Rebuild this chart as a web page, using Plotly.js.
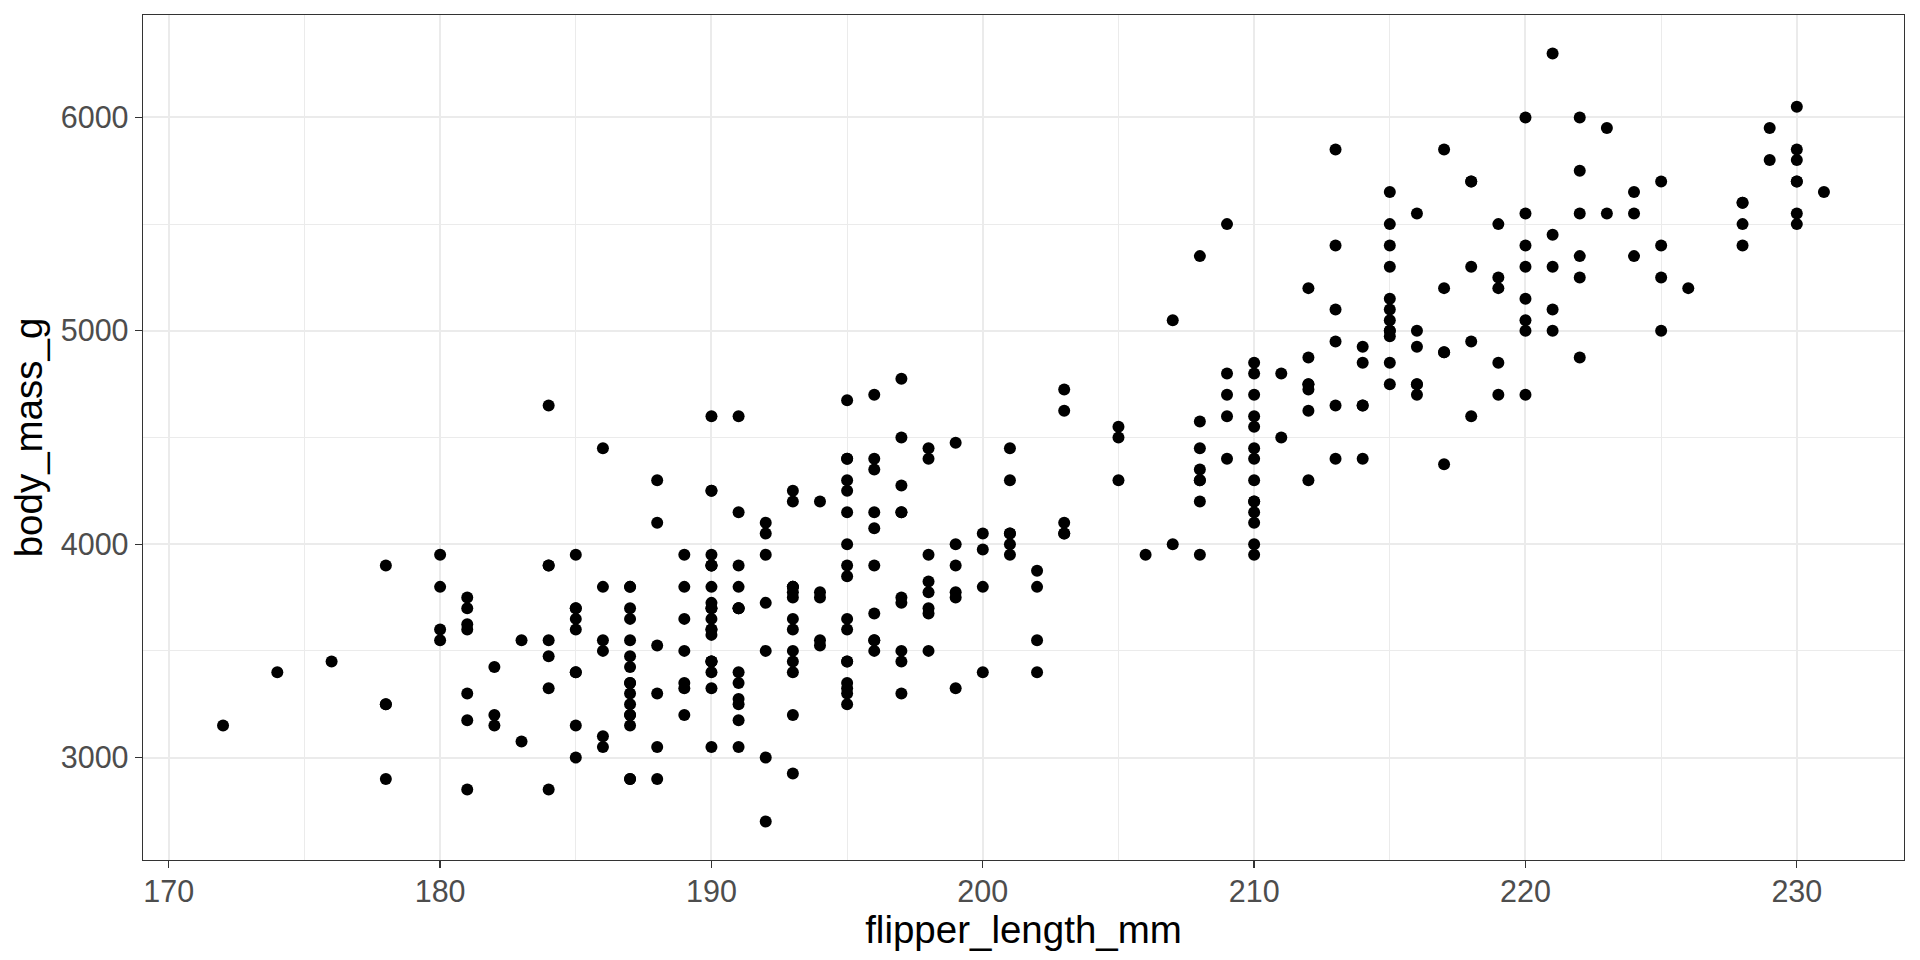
<!DOCTYPE html>
<html>
<head>
<meta charset="utf-8">
<script src="https://cdn.plot.ly/plotly-3.0.1.min.js"></script>
<style>
  html, body { margin: 0; padding: 0; background: #ffffff; }
  #chart { width: 1920px; height: 960px; }
</style>
</head>
<body>
<div id="chart"></div>
<script>
// Adelie
const adelieFlipper = [181,186,195,193,190,181,195,182,191,198,185,195,197,184,194,174,180,189,185,180,187,183,187,172,180,178,178,188,184,195,196,190,180,181,184,182,195,186,196,185,190,182,190,191,186,188,190,200,187,191,186,193,181,194,185,195,185,192,184,192,195,188,190,198,190,190,196,197,190,195,191,184,187,195,189,196,187,193,191,194,190,189,189,190,202,205,185,186,187,208,190,196,178,192,192,203,183,190,193,184,199,190,181,197,198,191,193,197,191,196,188,199,189,189,187,198,176,202,186,199,191,195,191,210,190,197,193,199,187,190,191,200,185,193,193,187,188,190,192,185,190,184,195,193,187,201];
const adelieMass = [3750,3800,3250,3450,3650,3625,4675,3200,3800,4400,3700,3450,4500,3325,4200,3400,3600,3800,3950,3800,3800,3550,3200,3150,3950,3250,3900,3300,3900,3325,4150,3950,3550,3300,4650,3150,3900,3100,4400,3000,4600,3425,3450,4150,3500,4300,3450,4050,2900,3700,3550,3800,2850,3750,3150,4400,3600,4050,2850,3950,3350,4100,3050,4450,3600,3900,3550,4150,3700,4250,3700,3900,3550,4000,3200,4700,3800,4200,3350,3550,3800,3500,3950,3600,3550,4300,3400,4450,3300,4300,3700,4350,2900,4100,3725,4725,3075,4250,2925,3550,3750,3900,3175,4775,3825,4600,3200,4275,3900,4075,2900,3775,3350,3325,3150,3500,3450,3875,3050,4000,3275,4300,3050,4000,3325,3500,3500,4475,3425,3900,3175,3975,3400,4250,3400,3475,3050,3725,3000,3650,4250,3475,3450,3750,3700,4000];

// Gentoo
const gentooFlipper = [211,230,210,218,215,210,211,219,209,215,214,216,214,213,210,217,210,221,209,222,218,215,213,215,215,215,215,210,220,222,209,207,230,220,220,213,219,208,208,208,225,210,216,222,217,210,225,213,215,210,220,210,225,217,220,208,220,208,224,208,221,214,231,219,230,229,220,223,216,221,221,217,216,230,209,220,215,223,212,221,212,224,212,228,218,218,212,230,218,228,212,224,214,226,216,222,203,225,219,228,215,228,215,210,219,208,209,216,229,213,230,217,230,222,214,215,222,212,213];
const gentooMass = [4500,5700,4450,5700,5400,4550,4800,5200,4400,5150,4650,5550,4650,5850,4200,5850,4150,6300,4800,5350,5700,5000,4400,5050,5000,5100,5650,4600,5550,5250,4700,5050,6050,5150,5400,4950,5250,4350,5350,3950,5700,4300,4750,5550,4900,4200,5400,5100,5300,4850,5300,4400,5000,4900,5050,4300,5000,4450,5550,4200,5300,4400,5650,4700,5700,5800,4700,5550,4750,5000,5100,5200,4700,5800,4600,6000,4750,5950,4625,5450,4725,5350,4750,5600,4600,5300,4875,5550,4950,5400,4750,5650,4850,5200,4925,4875,4625,5250,4850,5600,4975,5500,5500,4700,5500,4575,5500,5000,5950,4650,5500,4375,5850,6000,4925,4850,5750,5200,5400];

// Chinstrap
const chinstrapFlipper = [192,196,193,188,197,198,178,197,195,198,193,194,185,201,190,201,197,181,190,195,181,191,187,193,195,197,200,200,191,205,187,201,187,203,195,199,195,210,192,205,210,187,196,196,196,201,190,212,187,198,199,201,193,203,187,197,191,203,202,194,206,189,195,207,202,193,210,198];
const chinstrapMass = [3500,3900,3650,3525,3725,3950,3250,3750,4150,3700,3800,3775,3700,4050,3575,4050,3300,3700,3450,4400,3600,3400,2900,3800,3300,4150,3400,3800,3700,4550,3200,4300,3350,4100,3600,3900,3850,4800,2700,4500,3950,3650,3550,3500,3675,4450,3400,4300,3250,3675,3325,3950,3600,4050,3350,3450,3250,4050,3800,3525,3950,3650,3650,4000,3400,3775,4100,3775];

// Axis ticks
const xTickVals = [170, 180, 190, 200, 210, 220, 230];
const yTickVals = [3000, 4000, 5000, 6000];
const xTitle = 'flipper_length_mm';
const yTitle = 'body_mass_g';

const marker = { color: '#000000', size: 12, line: { width: 0 } };
const traces = [
  { x: adelieFlipper, y: adelieMass, type: 'scatter', mode: 'markers', marker: marker, hoverinfo: 'skip' },
  { x: gentooFlipper, y: gentooMass, type: 'scatter', mode: 'markers', marker: marker, hoverinfo: 'skip' },
  { x: chinstrapFlipper, y: chinstrapMass, type: 'scatter', mode: 'markers', marker: marker, hoverinfo: 'skip' }
];

const font = 'Liberation Sans, Arial, sans-serif';
const axisCommon = {
  showgrid: true, gridcolor: '#EBEBEB', gridwidth: 2,
  zeroline: false,
  showline: true, mirror: true, linecolor: '#333333', linewidth: 1.3,
  ticks: 'outside', ticklen: 7, tickwidth: 1.3, tickcolor: '#333333',
  tickfont: { family: font, size: 30.5, color: '#4D4D4D' },
  automargin: false
};

const layout = {
  width: 1920, height: 960,
  margin: { l: 143, r: 16, t: 15, b: 100 },
  paper_bgcolor: '#ffffff', plot_bgcolor: '#ffffff',
  showlegend: false,
  font: { family: font },
  xaxis: Object.assign({}, axisCommon, {
    range: [169.05, 233.95],
    tickmode: 'array', tickvals: xTickVals, ticktext: xTickVals.map(String),
    ticklabelstandoff: -3,
    minor: { tickmode: 'array', tickvals: [175, 185, 195, 205, 215, 225], showgrid: true, gridcolor: '#EBEBEB', gridwidth: 1, ticks: '' },
    title: { text: xTitle, font: { family: font, size: 38.5, color: '#000000' }, standoff: 0 }
  }),
  yaxis: Object.assign({}, axisCommon, {
    range: [2520, 6480],
    tickmode: 'array', tickvals: yTickVals, ticktext: yTickVals.map(String),
    minor: { tickmode: 'array', tickvals: [2500, 3500, 4500, 5500], showgrid: true, gridcolor: '#EBEBEB', gridwidth: 1, ticks: '' },
    title: { text: yTitle, font: { family: font, size: 38.5, color: '#000000' }, standoff: 6 }
  })
};

Plotly.newPlot('chart', traces, layout, { displayModeBar: false, staticPlot: true });
</script>
</body>
</html>
